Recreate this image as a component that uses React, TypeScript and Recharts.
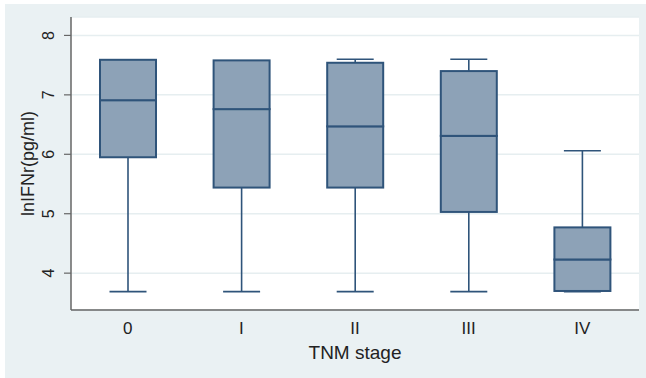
import React from 'react';
import {
    ComposedChart,
    Bar,
    XAxis,
    YAxis,
    CartesianGrid,
    Label,
} from 'recharts';

const stages = ['0', 'I', 'II', 'III', 'IV'];
const lowerWhisker = [3.69, 3.69, 3.69, 3.69, 3.69];
const q1 = [5.95, 5.44, 5.44, 5.03, 3.7];
const median = [6.91, 6.76, 6.47, 6.31, 4.23];
const q3 = [7.59, 7.58, 7.54, 7.4, 4.77];
const upperWhisker = [7.59, 7.58, 7.6, 7.6, 6.06];
const yTicks = [4, 5, 6, 7, 8];

// stacked segments: invisible base, lower whisker, box halves, upper whisker
const data = stages.map((stage, i) => ({
    stage,
    base: lowerWhisker[i],
    lowSpan: q1[i] - lowerWhisker[i],
    lowBox: median[i] - q1[i],
    highBox: q3[i] - median[i],
    highSpan: upperWhisker[i] - q3[i],
}));

const FONT = '"Liberation Sans", Arial, sans-serif';
const BOX_FILL = '#8da2b7';
const BOX_STROKE = '#2f547a';
const CAP = 37;

const Empty = () => <g />;

const LowWhisker = (props: any) => {
    const { x, y, width, height } = props;
    const cx = x + width / 2;
    const bottom = y + height;
    return (
        <g stroke={BOX_STROKE} strokeWidth={1.6}>
            <line x1={cx} x2={cx} y1={y} y2={bottom} />
            <line x1={cx - CAP / 2} x2={cx + CAP / 2} y1={bottom} y2={bottom} />
        </g>
    );
};

const HighWhisker = (props: any) => {
    const { x, y, width, height } = props;
    if (!height || height < 0.5) return <g />;
    const cx = x + width / 2;
    return (
        <g stroke={BOX_STROKE} strokeWidth={1.6}>
            <line x1={cx} x2={cx} y1={y} y2={y + height} />
            <line x1={cx - CAP / 2} x2={cx + CAP / 2} y1={y} y2={y} />
        </g>
    );
};

const BoxPart = (props: any) => {
    const { x, y, width, height } = props;
    return (
        <rect
            x={x}
            y={y}
            width={width}
            height={Math.max(height, 0)}
            fill={BOX_FILL}
            stroke={BOX_STROKE}
            strokeWidth={2}
        />
    );
};

const YTick = ({ x, y, payload }: any) => (
    <text
        x={x}
        y={y}
        transform={`rotate(-90 ${x} ${y})`}
        textAnchor="middle"
        fontSize={16}
        fontFamily={FONT}
        fill="#222"
    >
        {payload.value}
    </text>
);

const XTick = ({ x, y, payload }: any) => (
    <text x={x} y={y + 22} textAnchor="middle" fontSize={17} fontFamily={FONT} fill="#222">
        {payload.value}
    </text>
);

const YTitle = ({ viewBox }: any) => {
    const cy = viewBox.y + viewBox.height / 2;
    return (
        <text
            x={34}
            y={cy}
            transform={`rotate(-90 34 ${cy})`}
            textAnchor="middle"
            fontSize={18}
            fontFamily={FONT}
            fill="#222"
        >
            lnIFNr(pg/ml)
        </text>
    );
};

const XTitle = ({ viewBox }: any) => (
    <text
        x={viewBox.x + viewBox.width / 2}
        y={359}
        textAnchor="middle"
        fontSize={19}
        fontFamily={FONT}
        fill="#222"
    >
        TNM stage
    </text>
);

export default function App() {
    return (
        <div style={{ position: 'relative', width: 646, height: 378, background: '#fff' }}>
            <style>{'body{margin:0}'}</style>
            <div
                style={{
                    position: 'absolute',
                    left: 5,
                    top: 4,
                    right: 0,
                    bottom: 0,
                    background: '#eaf1f3',
                }}
            />
            <div style={{ position: 'absolute', left: 0, top: 0 }}>
                <ComposedChart
                    width={646}
                    height={378}
                    data={data}
                    margin={{ top: 17, right: 7, bottom: 0, left: 0 }}
                >
                    <CartesianGrid
                        vertical={false}
                        fill="#ffffff"
                        stroke="#e6eef0"
                        strokeWidth={1.5}
                    />
                    <XAxis
                        dataKey="stage"
                        height={68}
                        tickLine={false}
                        tickSize={0}
                        tick={<XTick />}
                        axisLine={{ stroke: '#666', strokeWidth: 1.5 }}
                    >
                        <Label content={<XTitle />} />
                    </XAxis>
                    <YAxis
                        width={71}
                        type="number"
                        domain={[3.38, 8.31]}
                        allowDataOverflow
                        ticks={yTicks}
                        tickSize={7}
                        tickMargin={10}
                        tick={<YTick />}
                        tickLine={{ stroke: '#666', strokeWidth: 1.2 }}
                        axisLine={{ stroke: '#666', strokeWidth: 1.5 }}
                    >
                        <Label content={<YTitle />} />
                    </YAxis>
                    <Bar dataKey="base" stackId="box" barSize={56} shape={<Empty />} isAnimationActive={false} />
                    <Bar dataKey="lowSpan" stackId="box" barSize={56} shape={<LowWhisker />} isAnimationActive={false} />
                    <Bar dataKey="lowBox" stackId="box" barSize={56} shape={<BoxPart />} isAnimationActive={false} />
                    <Bar dataKey="highBox" stackId="box" barSize={56} shape={<BoxPart />} isAnimationActive={false} />
                    <Bar dataKey="highSpan" stackId="box" barSize={56} shape={<HighWhisker />} isAnimationActive={false} />
                </ComposedChart>
            </div>
        </div>
    );
}
